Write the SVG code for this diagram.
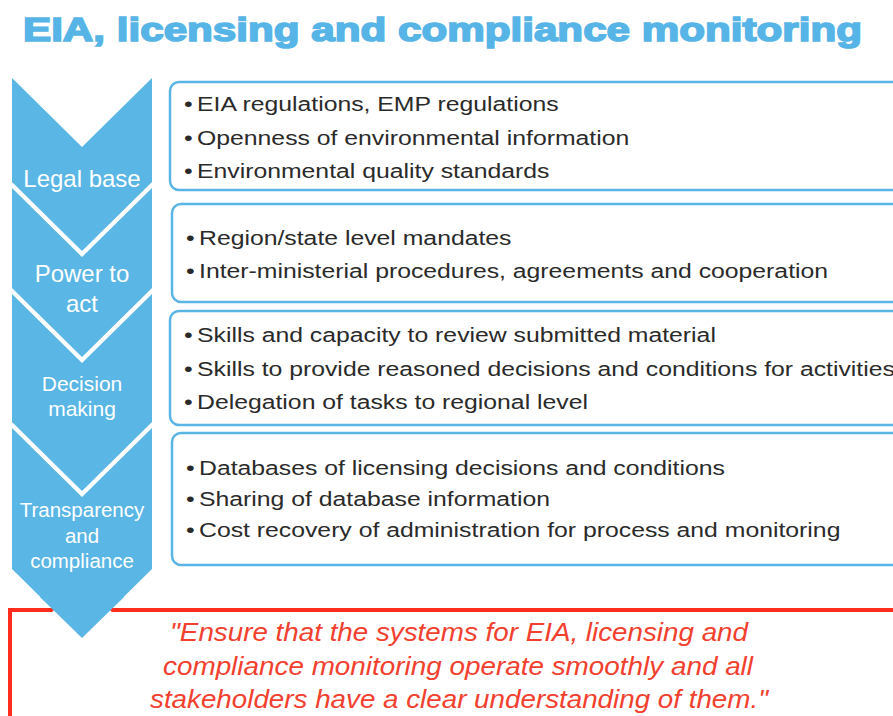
<svg xmlns="http://www.w3.org/2000/svg" width="893" height="716" viewBox="0 0 893 716">
  <style>
    .title { font-family: "Liberation Sans", Arial, sans-serif; font-weight: bold; font-size: 33px; fill: #56B4E6; stroke: #56B4E6; stroke-width: 1.6px; }
    .chev { fill: #5AB6E4; }
    .chev-label { font-family: "Liberation Sans", Arial, sans-serif; fill: #FFFFFF; text-anchor: middle; }
    .box { fill: #FFFFFF; stroke: #5AB4E5; stroke-width: 2.5; }
    .item { font-family: "Liberation Sans", Arial, sans-serif; font-size: 21px; fill: #2A2A2A; }
    .quote-box { fill: none; stroke: #FF2D1E; stroke-width: 4; }
    .quote { font-family: "Liberation Sans", Arial, sans-serif; font-style: italic; font-size: 25.5px; fill: #F2402E; text-anchor: middle; }
  </style>

  <rect width="893" height="716" fill="#FFFFFF"/>

  <text class="title" x="23" y="41" textLength="839" lengthAdjust="spacingAndGlyphs">EIA, licensing and compliance monitoring</text>

  <!-- summary statement box -->
  <g id="statement">
    <rect class="quote-box" x="10" y="610" width="900" height="130"/>
    <text class="quote" x="459" y="641" textLength="578" lengthAdjust="spacingAndGlyphs">"Ensure that the systems for EIA, licensing and</text>
    <text class="quote" x="458" y="675" textLength="590" lengthAdjust="spacingAndGlyphs">compliance monitoring operate smoothly and all</text>
    <text class="quote" x="459" y="708" textLength="618" lengthAdjust="spacingAndGlyphs">stakeholders have a clear understanding of them."</text>
  </g>

  <!-- stage chevrons -->
  <g id="stage-legal">
    <path class="chev" d="M12,78 L82,147 L152,78 L152,182 L82,251 L12,182 Z"/>
    <text class="chev-label" x="82" y="187" font-size="24">Legal base</text>
  </g>
  <g id="stage-power">
    <path class="chev" d="M12,188 L82,257 L152,188 L152,288 L82,357 L12,288 Z"/>
    <text class="chev-label" x="82" y="282" font-size="24">Power to</text>
    <text class="chev-label" x="82" y="312" font-size="24">act</text>
  </g>
  <g id="stage-decision">
    <path class="chev" d="M12,294 L82,363 L152,294 L152,422 L82,491 L12,422 Z"/>
    <text class="chev-label" x="82" y="391" font-size="21">Decision</text>
    <text class="chev-label" x="82" y="416" font-size="21">making</text>
  </g>
  <g id="stage-transparency">
    <path class="chev" d="M12,428 L82,497 L152,428 L152,569 L82,638 L12,569 Z"/>
    <!-- white halo where the arrow tip crosses the statement frame -->
    <path d="M54,610 L82,638 L110,610" fill="none" stroke="#FFFFFF" stroke-width="7"/>
    <path class="chev" d="M40,597 L82,638 L124,597 Z"/>
    <text class="chev-label" x="82" y="517" font-size="20.5">Transparency</text>
    <text class="chev-label" x="82" y="543" font-size="20.5">and</text>
    <text class="chev-label" x="82" y="568" font-size="20.5">compliance</text>
  </g>

  <!-- detail boxes (item text is set slightly wide) -->
  <g id="detail-legal">
    <rect class="box" x="170" y="82" width="740" height="108" rx="9"/>
    <g transform="translate(197,0) scale(1.18,1)">
      <text class="item" x="-11" y="111">•</text><text class="item" x="0" y="111">EIA regulations, EMP regulations</text>
      <text class="item" x="-11" y="145">•</text><text class="item" x="0" y="145">Openness of environmental information</text>
      <text class="item" x="-11" y="178">•</text><text class="item" x="0" y="178">Environmental quality standards</text>
    </g>
  </g>
  <g id="detail-power">
    <rect class="box" x="172" y="204" width="738" height="98" rx="9"/>
    <g transform="translate(199,0) scale(1.18,1)">
      <text class="item" x="-11" y="245">•</text><text class="item" x="0" y="245">Region/state level mandates</text>
      <text class="item" x="-11" y="278">•</text><text class="item" x="0" y="278">Inter-ministerial procedures, agreements and cooperation</text>
    </g>
  </g>
  <g id="detail-decision">
    <rect class="box" x="170" y="311" width="740" height="114" rx="9"/>
    <g transform="translate(197,0) scale(1.18,1)">
      <text class="item" x="-11" y="342">•</text><text class="item" x="0" y="342">Skills and capacity to review submitted material</text>
      <text class="item" x="-11" y="376">•</text><text class="item" x="0" y="376">Skills to provide reasoned decisions and conditions for activities</text>
      <text class="item" x="-11" y="409">•</text><text class="item" x="0" y="409">Delegation of tasks to regional level</text>
    </g>
  </g>
  <g id="detail-transparency">
    <rect class="box" x="172" y="433" width="738" height="132" rx="9"/>
    <g transform="translate(199,0) scale(1.18,1)">
      <text class="item" x="-11" y="475">•</text><text class="item" x="0" y="475">Databases of licensing decisions and conditions</text>
      <text class="item" x="-11" y="506">•</text><text class="item" x="0" y="506">Sharing of database information</text>
      <text class="item" x="-11" y="537">•</text><text class="item" x="0" y="537">Cost recovery of administration for process and monitoring</text>
    </g>
  </g>
</svg>
